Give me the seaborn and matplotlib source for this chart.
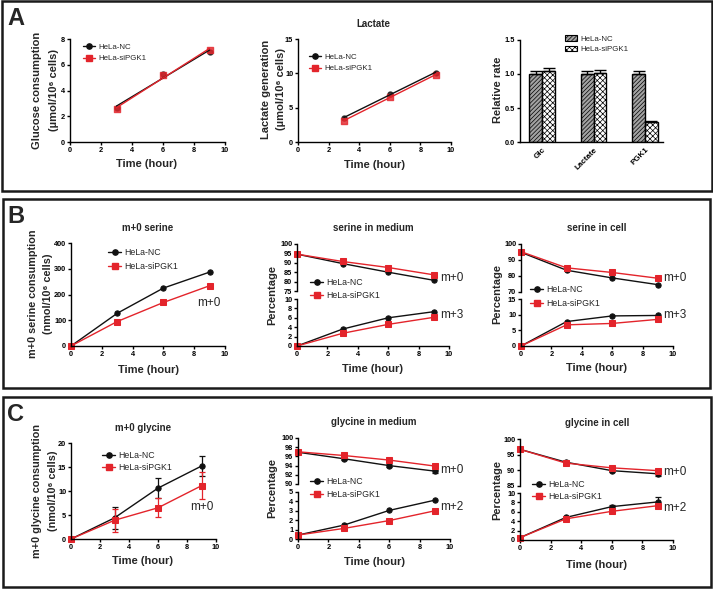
import matplotlib
matplotlib.use("Agg")
import numpy as np
import pandas as pd
import matplotlib.pyplot as plt
import seaborn as sns
from matplotlib.patches import Rectangle, Patch
from matplotlib.lines import Line2D

# ---------------- data ----------------
groups = ["HeLa-NC", "HeLa-siPGK1"]

t_a = [3, 6, 9]
glucose_nc = [2.65, 5.25, 7.0]
glucose_si = [2.55, 5.2, 7.15]
lactate_nc = [3.5, 7.0, 10.1]
lactate_si = [3.1, 6.5, 9.8]

rate_cats = ["Glc", "Lactate", "PGK1"]
rate_nc = [1.0, 1.0, 1.0]
rate_si = [1.05, 1.02, 0.30]
rate_nc_err = [0.04, 0.04, 0.04]
rate_si_err = [0.04, 0.04, 0.01]

t = [0, 3, 6, 9]
ser_cons_nc = [0, 127, 225, 287]
ser_cons_si = [0, 95, 169, 234]
ser_med_m0_nc = [94.6, 89.6, 85.0, 80.7]
ser_med_m0_si = [94.6, 90.7, 87.5, 83.6]
ser_med_m3_nc = [0, 3.6, 6.0, 7.3]
ser_med_m3_si = [0, 2.7, 4.6, 6.1]
ser_cell_m0_nc = [94.8, 83.6, 78.8, 74.6]
ser_cell_m0_si = [95.2, 85.1, 82.2, 78.6]
ser_cell_m3_nc = [0, 7.8, 9.6, 9.75]
ser_cell_m3_si = [0, 6.75, 7.2, 8.5]

gly_cons_nc = [0, 4.4, 10.6, 15.2]
gly_cons_si = [0, 3.9, 6.5, 11.1]
gly_cons_nc_err = [0, 2.3, 2.1, 2.0]
gly_cons_si_err = [0, 2.4, 2.0, 2.8]
gly_med_m0_nc = [96.9, 95.5, 94.0, 92.8]
gly_med_m0_si = [97.0, 96.2, 95.2, 93.9]
gly_med_m0_nc_err = [0.4, 0.3, 0.3, 0.3]
gly_med_m0_si_err = [0.3, 0.3, 0.3, 0.4]
gly_med_m2_nc = [0.42, 1.47, 3.04, 4.13]
gly_med_m2_si = [0.42, 1.12, 1.96, 3.0]
gly_cell_m0_nc = [96.7, 92.6, 89.9, 88.9]
gly_cell_m0_si = [96.7, 92.3, 90.8, 89.9]
gly_cell_m0_nc_err = [0, 0.3, 0.3, 0.7]
gly_cell_m2_nc = [0.5, 4.8, 7.1, 8.1]
gly_cell_m2_si = [0.5, 4.5, 6.1, 7.3]
gly_cell_m2_nc_err = [0, 0.2, 0.3, 1.1]

# ---------------- style ----------------
sns.set_theme(style="ticks")
plt.rcParams["font.family"] = ["Liberation Sans", "DejaVu Sans"]
plt.rcParams["font.weight"] = "bold"
plt.rcParams["axes.facecolor"] = "none"
plt.rcParams["hatch.linewidth"] = 0.5

NC = "#111111"
SI = "#e3242b"
W, H = 713, 589

fig = plt.figure(figsize=(W / 100, H / 100), dpi=100)


def add_ax(l, t_, r, b):
    return fig.add_axes([l / W, 1 - b / H, (r - l) / W, (b - t_) / H])


def ftext(x, y, s, **kw):
    return fig.text(x / W, 1 - y / H, s, **kw)


def style_ax(ax, xticks=None, yticks=None, xaxis=True):
    sns.despine(ax=ax)
    for s in ["left", "bottom"]:
        ax.spines[s].set_linewidth(1.0)
        ax.spines[s].set_color("black")
    ax.tick_params(direction="out", length=2.5, width=1, labelsize=5.3, pad=1, colors="black")
    if xticks is not None:
        ax.set_xticks(xticks)
    if yticks is not None:
        ax.set_yticks(yticks)
        ax.set_ylim(yticks[0], yticks[-1])
    if not xaxis:
        ax.spines["bottom"].set_visible(False)
        ax.tick_params(axis="x", bottom=False, labelbottom=False)


def plot_pair(ax, y_nc, y_si, x=t, err_nc=None, err_si=None):
    for y, err, color, marker in ((y_nc, err_nc, NC, "o"), (y_si, err_si, SI, "s")):
        if err is not None:
            ax.errorbar(x, y, yerr=err, fmt="none", ecolor=color, elinewidth=0.9,
                        capsize=2.5, capthick=0.9, clip_on=False)
        sns.lineplot(x=x, y=y, ax=ax, color=color, marker=marker, markersize=3.8,
                     markeredgecolor=color, linewidth=1, clip_on=False)
    ax.set_xlim(0, 10)


def line_handles():
    return [Line2D([], [], color=NC, marker="o", markersize=3.8, lw=1),
            Line2D([], [], color=SI, marker="s", markersize=3.8, lw=1)]


def legend_px(ax, x, row1, row2, fs, handles, hl=1.5):
    fpx = fs * 100 / 72
    h = fpx * 1.15
    spacing = (row2 - row1 - h) / fpx
    ax.legend(handles=handles, labels=groups, loc="upper left",
              bbox_to_anchor=(x / W, 1 - (row1 - h / 2) / H),
              bbox_transform=fig.transFigure, frameon=False, borderpad=0,
              borderaxespad=0, handlelength=hl, handletextpad=0.4,
              labelspacing=spacing, prop={"size": fs, "weight": "normal"})


def ylabel2(x1, x2, y, l1, l2, fs=8):
    ftext(x1, y, l1, rotation=90, ha="center", va="center", fontsize=fs)
    ftext(x2, y, l2, rotation=90, ha="center", va="center", fontsize=fs)


def tag(x, y, s):
    ftext(x, y, s, ha="left", va="center", fontsize=8.5, fontweight="normal")


# ---------------- panel A ----------------
ax = add_ax(70, 39, 225, 142)
for y, color, marker in ((glucose_nc, NC, "o"), (glucose_si, SI, "s")):
    sns.regplot(x=t_a, y=y, ax=ax, ci=None, color=color, marker=marker,
                scatter_kws={"s": 13, "clip_on": False}, line_kws={"lw": 1})
ax.set_xlim(0, 10)
style_ax(ax, [0, 2, 4, 6, 8, 10], [0, 2, 4, 6, 8])
legend_px(ax, 83, 48, 61, 5.7, line_handles())
ylabel2(37, 54, 90, "Glucose consumption", "(µmol/10⁶ cells)")
ftext(147, 164, "Time (hour)", ha="center", va="center", fontsize=8)

ax = add_ax(298, 39, 451, 142)
for y, color, marker in ((lactate_nc, NC, "o"), (lactate_si, SI, "s")):
    sns.regplot(x=t_a, y=y, ax=ax, ci=None, color=color, marker=marker,
                scatter_kws={"s": 13, "clip_on": False}, line_kws={"lw": 1})
ax.set_xlim(0, 10)
style_ax(ax, [0, 2, 4, 6, 8, 10], [0, 5, 10, 15])
legend_px(ax, 309, 58, 71, 5.7, line_handles())
ylabel2(266, 281, 89, "Lactate generation", "(µmol/10⁶ cells)")
ftext(374, 165, "Time (hour)", ha="center", va="center", fontsize=8)
ftext(373, 24, "Lactate", ha="center", va="center", fontsize=7)

ax = add_ax(520, 40, 663, 142)
df_rate = pd.DataFrame({
    "cat": rate_cats * 2,
    "group": [groups[0]] * len(rate_cats) + [groups[1]] * len(rate_cats),
    "val": rate_nc + rate_si,
})
bar_faces = ["#a2a2a2", "white"]
bar_hatches = ["////////", "xxxxxx"]
sns.barplot(data=df_rate, x="cat", y="val", hue="group", palette=bar_faces,
            width=0.5, errorbar=None, ax=ax, legend=False, edgecolor="black",
            linewidth=1, saturation=1)
for cont, hatch, errs in zip(ax.containers, bar_hatches, [rate_nc_err, rate_si_err]):
    for bar, e in zip(cont, errs):
        bar.set_hatch(hatch)
        cx = bar.get_x() + bar.get_width() / 2
        ax.errorbar(cx, bar.get_height(), yerr=[[0], [e]], fmt="none",
                    ecolor="black", elinewidth=1, capsize=4, capthick=1)
ax.set_xlim(-0.43, 2.35)
ax.set_xlabel("")
ax.set_ylabel("")
style_ax(ax, None, [0.0, 0.5, 1.0, 1.5])
ax.tick_params(axis="x", length=0, labelsize=5.8, pad=3)
for lab in ax.get_xticklabels():
    lab.set_rotation(45)
    lab.set_ha("right")
    lab.set_rotation_mode("anchor")
bar_handles = [Patch(facecolor=f, hatch=h, edgecolor="black", lw=0.8)
               for f, h in zip(bar_faces, bar_hatches)]
legend_px(ax, 565, 40, 52, 5.7, bar_handles, hl=1.5)
ftext(498, 90, "Relative rate", rotation=90, ha="center", va="center", fontsize=8)

# ---------------- panel B ----------------
ax = add_ax(71, 243, 225, 346)
plot_pair(ax, ser_cons_nc, ser_cons_si)
style_ax(ax, [0, 2, 4, 6, 8, 10], [0, 100, 200, 300, 400])
legend_px(ax, 108, 253, 268, 6.3, line_handles())
ylabel2(33, 48, 294, "m+0 serine consumption", "(nmol/10⁶ cells)", fs=7.8)
ftext(148, 370, "Time (hour)", ha="center", va="center", fontsize=8)
ftext(148, 228, "m+0 serine", ha="center", va="center", fontsize=7)
tag(197, 303, "m+0")

ax_t = add_ax(297, 244, 449, 291)
ax_b = add_ax(297, 299, 449, 346)
plot_pair(ax_t, ser_med_m0_nc, ser_med_m0_si)
plot_pair(ax_b, ser_med_m3_nc, ser_med_m3_si)
style_ax(ax_t, None, [75, 80, 85, 90, 95, 100], xaxis=False)
style_ax(ax_b, [0, 2, 4, 6, 8, 10], [0, 2, 4, 6, 8, 10])
legend_px(ax_b, 310, 283, 297, 6.3, line_handles())
ftext(272, 295, "Percentage", rotation=90, ha="center", va="center", fontsize=8)
ftext(373, 369, "Time (hour)", ha="center", va="center", fontsize=8)
ftext(373, 228, "serine in medium", ha="center", va="center", fontsize=7)
tag(440, 278, "m+0")
tag(440, 315, "m+3")

ax_t = add_ax(521, 244, 673, 292)
ax_b = add_ax(521, 299, 673, 346)
plot_pair(ax_t, ser_cell_m0_nc, ser_cell_m0_si)
plot_pair(ax_b, ser_cell_m3_nc, ser_cell_m3_si)
style_ax(ax_t, None, [70, 80, 90, 100], xaxis=False)
style_ax(ax_b, [0, 2, 4, 6, 8, 10], [0, 5, 10, 15])
legend_px(ax_b, 530, 290, 305, 6.3, line_handles())
ftext(497, 294, "Percentage", rotation=90, ha="center", va="center", fontsize=8)
ftext(597, 368, "Time (hour)", ha="center", va="center", fontsize=8)
ftext(597, 228, "serine in cell", ha="center", va="center", fontsize=7)
tag(663, 278, "m+0")
tag(663, 315, "m+3")

# ---------------- panel C ----------------
ax = add_ax(71, 443, 216, 539)
plot_pair(ax, gly_cons_nc, gly_cons_si, err_nc=gly_cons_nc_err, err_si=gly_cons_si_err)
style_ax(ax, [0, 2, 4, 6, 8, 10], [0, 5, 10, 15, 20])
legend_px(ax, 102, 456, 469, 6.3, line_handles())
ylabel2(37, 53, 491, "m+0 glycine consumption", "(nmol/10⁶ cells)", fs=7.8)
ftext(143, 561, "Time (hour)", ha="center", va="center", fontsize=8)
ftext(143, 428, "m+0 glycine", ha="center", va="center", fontsize=7)
tag(190, 507, "m+0")

ax_t = add_ax(298, 438, 450, 484)
ax_b = add_ax(298, 492, 450, 539)
plot_pair(ax_t, gly_med_m0_nc, gly_med_m0_si, err_nc=gly_med_m0_nc_err, err_si=gly_med_m0_si_err)
plot_pair(ax_b, gly_med_m2_nc, gly_med_m2_si)
style_ax(ax_t, None, [90, 92, 94, 96, 98, 100], xaxis=False)
style_ax(ax_b, [0, 2, 4, 6, 8, 10], [0, 1, 2, 3, 4, 5])
legend_px(ax_b, 310, 482, 496, 6.3, line_handles())
ftext(272, 488, "Percentage", rotation=90, ha="center", va="center", fontsize=8)
ftext(374, 562, "Time (hour)", ha="center", va="center", fontsize=8)
ftext(374, 422, "glycine in medium", ha="center", va="center", fontsize=7)
tag(440, 470, "m+0")
tag(440, 507, "m+2")

ax_t = add_ax(520, 439, 673, 486)
ax_b = add_ax(520, 493, 673, 540)
plot_pair(ax_t, gly_cell_m0_nc, gly_cell_m0_si, err_nc=gly_cell_m0_nc_err)
plot_pair(ax_b, gly_cell_m2_nc, gly_cell_m2_si, err_nc=gly_cell_m2_nc_err)
style_ax(ax_t, None, [85, 90, 95, 100], xaxis=False)
style_ax(ax_b, [0, 2, 4, 6, 8, 10], [0, 2, 4, 6, 8, 10])
legend_px(ax_b, 532, 485, 498, 6.3, line_handles())
ftext(497, 490, "Percentage", rotation=90, ha="center", va="center", fontsize=8)
ftext(597, 565, "Time (hour)", ha="center", va="center", fontsize=8)
ftext(597, 423, "glycine in cell", ha="center", va="center", fontsize=7)
tag(663, 472, "m+0")
tag(663, 508, "m+2")

# ---------------- panel frames and letters ----------------
for (l, t_, r, b), letter, base in (((2, 1, 712, 191), "A", 25),
                                    ((3, 199, 710, 388), "B", 223),
                                    ((3, 397, 711, 587), "C", 421)):
    fig.add_artist(Rectangle((l / W, 1 - b / H), (r - l) / W, (b - t_) / H,
                             transform=fig.transFigure, fill=False,
                             lw=1.8, ec="#1a1a1a"))
    ftext(7, base, letter, ha="left", va="baseline", fontsize=17)

fig.savefig("out.png", dpi=100)
